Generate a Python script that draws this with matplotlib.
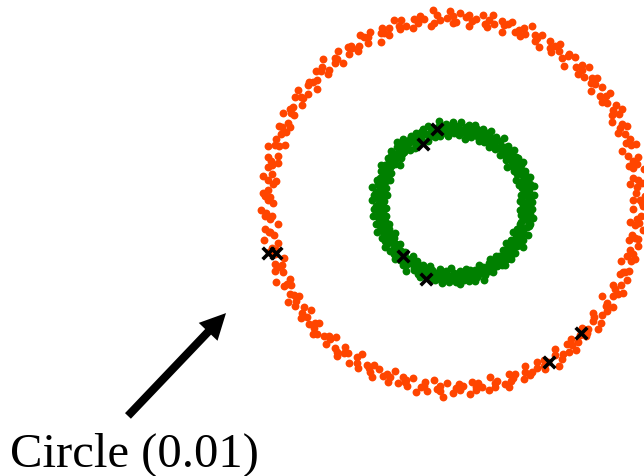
import numpy as np
import matplotlib
matplotlib.use("Agg")
import matplotlib.pyplot as plt

# angles (degrees) of the sampled points, shared by both rings
ring_angles = [
    0, 1, 1, 2, 3, 5, 6, 6, 7, 8, 10, 11, 12, 12, 13,
    14, 15, 17, 18, 18, 19, 20, 22, 23, 24, 24, 25, 27, 28, 29,
    29, 30, 31, 33, 34, 35, 35, 36, 38, 39, 40, 41, 41, 42, 44,
    45, 46, 46, 47, 48, 50, 51, 52, 52, 53, 55, 56, 57, 57, 58,
    59, 61, 62, 63, 63, 64, 66, 67, 68, 68, 69, 70, 72, 73, 74,
    74, 75, 77, 78, 79, 79, 80, 81, 83, 84, 85, 85, 86, 88, 89,
    90, 90, 91, 92, 94, 95, 96, 96, 97, 99, 100, 101, 101, 102, 103,
    105, 106, 107, 107, 108, 110, 111, 112, 112, 113, 114, 116, 117, 118, 118,
    119, 121, 122, 123, 123, 124, 125, 127, 128, 129, 129, 130, 132, 133, 134,
    134, 135, 136, 138, 139, 140, 140, 141, 143, 144, 145, 145, 146, 147, 149,
    150, 151, 151, 152, 154, 155, 156, 156, 157, 158, 160, 161, 162, 162, 163,
    165, 166, 167, 167, 168, 169, 171, 172, 173, 173, 174, 176, 177, 178, 178,
    179, 180, 182, 183, 184, 184, 185, 187, 188, 189, 189, 190, 191, 193, 194,
    195, 195, 196, 198, 199, 200, 200, 201, 202, 204, 205, 206, 206, 207, 209,
    210, 211, 211, 212, 213, 215, 216, 217, 217, 218, 220, 221, 222, 222, 223,
    224, 226, 227, 228, 228, 229, 231, 232, 233, 233, 234, 235, 237, 238, 239,
    239, 240, 242, 243, 244, 244, 245, 246, 248, 249, 250, 250, 251, 253, 254,
    255, 255, 256, 257, 259, 260, 261, 261, 262, 264, 265, 266, 266, 267, 268,
    270, 271, 272, 272, 273, 275, 276, 277, 277, 278, 279, 281, 282, 283, 283,
    284, 286, 287, 288, 288, 289, 290, 292, 293, 294, 294, 295, 297, 298, 299,
    299, 300, 301, 303, 304, 305, 305, 306, 308, 309, 310, 310, 311, 312, 314,
    315, 316, 316, 317, 319, 320, 321, 321, 322, 323, 325, 326, 327, 327, 328,
    330, 331, 332, 332, 333, 334, 336, 337, 338, 338, 339, 341, 342, 343, 343,
    344, 345, 347, 348, 349, 349, 350, 352, 353, 354, 354, 355, 356, 358, 359,
]

# radial jitter of each point, in steps of jitter_step
outer_jitter = [
    2, -3, 1, 4, -1, 0, -4, 3, 1, -2, 5, -1, 2, -3, 0,
    3, -2, -5, 1, 4, -1, 2, 0, -3, 3, -1, 1, -4, 2, 5,
    -2, 0, 3, -1, -3, 4, 1, -2, 2, -4, 0, 3, -1, 1, -2,
    4, -3, 0, 2, -1, 3, -5, 1, 2, -2, 0, 4, -3, 1, -1,
    2, -4, 3, 0, -2, 1, 5, -1, -3, 2, 0, -2, 3, 1, -4,
    0, 2, -1, 4, -3, 1, -2, 3, 0, -1, 2, -4, 1, 3, -2,
    1, -3, 4, 0, -1, 2, -2, 5, -4, 1, 3, -1, 0, 2, -3,
    -1, 3, 0, -2, 4, 1, -3, 2, -1, 0, -5, 3, 1, -2, 2,
    4, -1, -3, 1, 0, 2, -2, 3, -4, 1, 0, -1, 5, -2, 2,
    -3, 1, 3, -1, 0, -4, 2, 1, -2, 4, -1, 0, 3, -3, 1,
    2, -2, 0, 4, -1, -3, 1, 3, -2, 0, 2, -4, 1, -1, 5,
    -2, 3, 1, -3, 0, 2, -1, 4, -4, 1, -2, 0, 3, -1, 2,
    0, -3, 4, 1, -2, 2, -1, -5, 3, 0, 1, -2, 4, -3, 1,
    3, -1, 0, -4, 2, 1, -2, 3, -1, 5, -3, 0, 2, -2, 1,
    -1, 4, -3, 0, 2, -2, 1, 3, -4, 0, 2, -1, 1, -3, 4,
    2, 0, -2, 3, -1, -4, 1, 2, -3, 4, 0, -1, 3, -2, -5,
    1, 3, -1, 0, -3, 2, 4, -2, 1, -1, 0, 3, -4, 2, -2,
    0, -1, 2, -3, 4, 1, -2, 0, 3, -4, 1, 2, -1, 5, -3,
    3, 0, -2, 1, -1, 4, -3, 2, 0, -2, 1, 3, -4, 0, 2,
    -1, 2, 4, -3, 1, 0, -2, 3, -1, -4, 2, 1, 0, -3, 3,
    1, -2, 0, 5, -1, 3, -4, 1, 2, -2, 0, 4, -3, 1, -1,
    2, -3, 1, 0, 4, -1, -2, 3, -4, 1, 2, 0, -1, 3, -5,
    0, 2, -1, 4, -3, 1, 3, -2, 0, -1, 2, -4, 1, 3, -2,
    1, -1, 3, -3, 0, 2, -2, 4, -1, 1, -4, 0, 2, -3, 3,
]

inner_jitter = [
    -1, 3, 0, -4, 2, 1, -2, 4, -3, 0, 2, -1, 5, -2, 1,
    3, -3, 0, 1, -1, 4, -4, 2, 0, -2, 3, 1, -1, -3, 2,
    0, 4, -2, 1, -5, 3, -1, 2, 0, -3, 1, 4, -2, 0, -1,
    2, -4, 3, -1, 1, 0, -2, 5, -3, 2, -1, 1, 3, -4, 0,
    -2, 1, 4, -3, 0, 2, -1, -4, 3, 1, -2, 0, 2, -1, 4,
    1, -3, 0, 3, -2, -5, 2, 1, -1, 4, 0, -3, 1, 2, -2,
    4, 0, -1, 2, -4, 3, 1, -2, 0, -1, 5, -3, 2, 1, -2,
    -3, 2, 1, -1, 4, -2, 0, 3, -4, 1, 2, -1, 0, -3, 3,
    0, -2, 3, 1, -1, 2, -4, 0, 4, -3, 1, -1, 2, 5, -2,
    1, 3, -2, 0, -3, 4, 1, -1, 2, -5, 0, 3, -2, 1, -1,
    -1, 2, 0, 4, -3, 1, -2, 3, -1, 0, -4, 2, 1, -2, 3,
    2, -1, -3, 1, 0, 5, -2, 2, -4, 1, 3, -1, 0, -3, 4,
    -2, 0, 2, -1, 3, -4, 1, 0, -2, 4, -1, 2, -3, 1, 0,
    3, -2, 1, -4, 0, 2, -1, 4, -3, 1, 0, -2, 3, -5, 2,
    0, 1, -3, 2, 4, -1, -2, 0, 3, -4, 1, 2, -1, 0, -2,
    4, -3, 2, 0, -1, 1, 3, -2, -4, 2, 0, 5, -1, -3, 1,
    -1, 2, 0, -2, 3, -3, 1, 4, 0, -1, 2, -4, 1, -2, 3,
    2, 0, -1, 3, -4, 1, -2, 2, 4, -3, 0, 1, -1, 3, -5,
    1, -2, 3, 0, -1, 4, -3, 1, -2, 2, 0, -4, 3, -1, 1,
    -3, 4, 0, 2, -2, 1, -1, 5, -4, 0, 3, -2, 1, 2, -1,
    0, 3, -2, 1, -4, 2, 0, -1, 3, -3, 4, 1, -2, 0, 2,
    -1, 1, 4, -3, 2, 0, -2, 3, -1, -4, 1, 2, 0, -3, 5,
    2, -1, 0, 3, -2, -4, 1, 4, -3, 1, 0, -1, 2, -2, 3,
    -2, 3, 1, -1, 0, 4, -3, 2, -1, 1, -4, 0, 3, -2, 1,
]

outer_radius = 1.0
inner_radius = 0.4
jitter_step = 0.0095

# highlighted samples (x markers)
marked_x = [-1.000, -0.957, -0.086, -0.162, -0.270, -0.146, 0.692, 0.519]
marked_y = [-0.270, -0.270, 0.400, 0.319, -0.286, -0.411, -0.703, -0.859]

label = "Circle (0.01)"


def ring(radius, jitter):
    th = np.deg2rad(np.array(ring_angles[:len(jitter)], dtype=float))
    r = radius + jitter_step * np.array(jitter[:len(th)], dtype=float)
    return r * np.cos(th), r * np.sin(th)


fig = plt.figure(figsize=(6.44, 4.76), dpi=100)
ax = fig.add_axes([0, 0, 1, 1])

ox, oy = ring(outer_radius, outer_jitter)
ix, iy = ring(inner_radius, inner_jitter)
ax.scatter(ox, oy, s=32, c="#ff4500", linewidths=0)
ax.scatter(ix, iy, s=32, c="#008000", linewidths=0)
ax.scatter(marked_x, marked_y, s=70, marker="x", c="black", linewidths=2.6)

ax.arrow(-1.757, -1.151, 0.530, 0.556, width=0.044, head_width=0.14,
         head_length=0.14, length_includes_head=True, color="black", lw=0)

ax.set_xlim(-453 / 185, 191 / 185)
ax.set_ylim(-273 / 185, 203 / 185)
ax.axis("off")

fig.text(10 / 644, 9 / 476, label, fontsize=35, family="Liberation Serif",
         ha="left", va="baseline")

fig.savefig("out.png", dpi=100)
